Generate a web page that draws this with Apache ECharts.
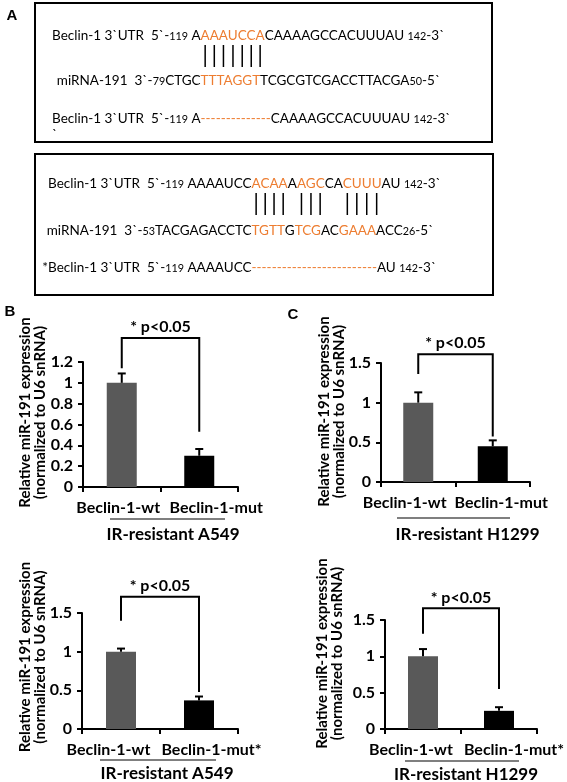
<!DOCTYPE html>
<html><head><meta charset="utf-8">
<script src="https://cdn.jsdelivr.net/npm/echarts@6/dist/echarts.min.js"></script>
<style>html,body{margin:0;padding:0;background:#fff}#c{width:567px;height:782px}</style>
</head><body><div id="c"></div>
<script>
// ---------- data ----------
const categoriesTop = ['Beclin-1-wt', 'Beclin-1-mut'];
const categoriesBottom = ['Beclin-1-wt', 'Beclin-1-mut*'];
const valuesB = [1.0, 0.30];
const errorsB = [0.09, 0.065];
const valuesC = [1.0, 0.45];
const errorsC = [0.13, 0.075];
const valuesD = [1.0, 0.37];
const errorsD = [0.04, 0.05];
const valuesE = [1.0, 0.25];
const errorsE = [0.10, 0.05];
const groupA549 = 'IR-resistant A549';
const groupH1299 = 'IR-resistant H1299';
const yMaxB = 1.2, yStepB = 0.2;
const yMax15 = 1.5, yStep05 = 0.5;
const yTitle = 'Relative miR-191 expression\n(normalized to U6 snRNA)';
const sigText = '* p<0.05';
// bracket levels (data units): [left foot, top, right foot]
const bracketB = [1.14, 1.43, 0.53];
const bracketC = [1.36, 1.61, 0.575];
const bracketD = [1.40, 1.71, 0.48];
const bracketE = [1.31, 1.66, 0.55];

// sequences for panel A: [text, kind]  n=normal, s=small number, o=orange
const box1Row1 = [['Beclin-1 3`UTR  5`-','n'],['119','s'],[' A','n'],['AAAUCCA','o'],['CAAAAGCCACUUUAU','n'],[' ','n'],['142','s'],['-3`','n']];
const box1Row2 = [['miRNA-191  3`-','n'],['79','s'],['CTGC','n'],['TTTAGGT','o'],['TCGCGTCGACCTTACGA','n'],['50','s'],['-5`','n']];
const box1Row3 = [['Beclin-1 3`UTR  5`-','n'],['119','s'],[' A','n'],['--------------','o'],['CAAAAGCCACUUUAU','n'],[' ','n'],['142','s'],['-3`','n']];
const box2Row1 = [['Beclin-1 3`UTR  5`-','n'],['119','s'],[' AAAAUCC','n'],['ACAA','o'],['A','n'],['AGC','o'],['CA','n'],['CUUU','o'],['AU','n'],[' ','n'],['142','s'],['-3`','n']];
const box2Row2 = [['miRNA-191  3`-','n'],['53','s'],['TACGAGACCTC','n'],['TGTT','o'],['G','n'],['TCG','o'],['AC','n'],['GAAA','o'],['ACC','n'],['26','s'],['-5`','n']];
const box2Row3 = [['*Beclin-1 3`UTR  5`-','n'],['119','s'],[' AAAAUCC','n'],['-------------------------','o'],['AU','n'],[' ','n'],['142','s'],['-3`','n']];

// ---------- layout ----------
const ORANGE = '#ED7D31';
const GRAY = '#595959';
const FONT = 'Lato';
const cv = document.createElement('canvas').getContext('2d');
function measure(t, size){ cv.font = size + 'px ' + FONT; return cv.measureText(t).width; }
function rowWidth(row, S){ return row.reduce((a, s) => a + measure(s[0], s[1]==='s' ? S*0.8 : S), 0); }
const S = 100 * 393 / rowWidth(box1Row1, 100);
function prefixWidth(row, segIdx){ let w=0; for(let i=0;i<segIdx;i++){ w+=measure(row[i][0], row[i][1]==='s'?S*0.8:S);} return w; }
function firstOrange(row){ return row.findIndex(s => s[1]==='o'); }
function rowTexts(row, x0, yc){
  const out = []; let x = x0;
  row.forEach(s => {
    const sz = s[1]==='s' ? S*0.8 : S;
    out.push({type:'text', x:x, y:yc + S*0.55, silent:true,
      style:{text:s[0], font: sz + 'px ' + FONT, fill: s[1]==='o' ? ORANGE : '#000', align:'left', verticalAlign:'bottom'}});
    x += measure(s[0], sz);
  });
  return out;
}
function pairLines(row, x0, y1, y2){
  const out = []; let x = x0;
  row.forEach(s => {
    const sz = s[1]==='s' ? S*0.8 : S;
    if (s[1]==='o') {
      for (let k=0;k<s[0].length;k++){
        const cx = x + measure(s[0].slice(0,k), sz) + measure(s[0][k], sz)/2;
        out.push({type:'line', silent:true, shape:{x1:cx,y1:y1,x2:cx,y2:y2}, style:{stroke:'#000', lineWidth:1.5}});
      }
    }
    x += measure(s[0], sz);
  });
  return out;
}
const g = [];
// boxes
g.push({type:'rect', shape:{x:35,y:3,width:457,height:139}, style:{fill:null, stroke:'#000', lineWidth:2}});
g.push({type:'rect', shape:{x:35,y:154,width:458,height:141}, style:{fill:null, stroke:'#000', lineWidth:2}});
// box 1
const b1x = 52;
const b1o = b1x + prefixWidth(box1Row1, firstOrange(box1Row1));
const b1r2x = b1o - prefixWidth(box1Row2, firstOrange(box1Row2));
g.push(...rowTexts(box1Row1, b1x, 35));
g.push(...pairLines(box1Row1, b1x, 45, 67));
g.push(...rowTexts(box1Row2, b1r2x, 80));
g.push(...rowTexts(box1Row3, b1x, 118));
g.push({type:'text', x:b1x, y:128, style:{text:'`', font:S+'px '+FONT, fill:'#000'}});
// box 2
const b2x = 48;
const b2o = b2x + prefixWidth(box2Row1, firstOrange(box2Row1));
const b2r2x = b2o - prefixWidth(box2Row2, firstOrange(box2Row2));
const b2r3x = b2x - measure('*', S);
g.push(...rowTexts(box2Row1, b2x, 183));
g.push(...pairLines(box2Row1, b2x, 193, 215));
g.push(...rowTexts(box2Row2, b2r2x, 230));
g.push(...rowTexts(box2Row3, b2r3x, 267));
// panel letters
const letterStyle = (t) => ({text:t, font:'bold 15px "Liberation Sans"', fill:'#000', align:'center', verticalAlign:'middle'});
g.push({type:'text', x:12, y:16, style:letterStyle('A')});
g.push({type:'text', x:10, y:312, style:letterStyle('B')});
g.push({type:'text', x:293, y:315, style:letterStyle('C')});
// group underlines
[[110,225,519],[397,510,518],[100,216,760],[405,519,761]].forEach(l => {
  g.push({type:'line', shape:{x1:l[0],y1:l[2],x2:l[1],y2:l[2]}, style:{stroke:'#000', lineWidth:1.2}});
});

// ---------- charts ----------
const panels = [
  {cats:categoriesTop, vals:valuesB, errs:errorsB, group:groupA549, max:yMaxB, step:yStepB, br:bracketB,
   grid:{left:83, top:362, width:155, height:125}, lp:[[0,7,0,0],[0,0,0,34]], yGap:35, yShift:24, xGap:39, xPad:25},
  {cats:categoriesTop, vals:valuesC, errs:errorsC, group:groupH1299, max:yMax15, step:yStep05, br:bracketC,
   grid:{left:381, top:363, width:149, height:119}, lp:[[0,27,0,0],[0,0,0,17]], yGap:34, yShift:22, xGap:44, xPad:24},
  {cats:categoriesBottom, vals:valuesD, errs:errorsD, group:groupA549, max:yMax15, step:yStep05, br:bracketD,
   grid:{left:82, top:613, width:156, height:116}, lp:[[0,25,0,0],[0,0,0,25]], yGap:34, yShift:28, xGap:36, xPad:14},
  {cats:categoriesBottom, vals:valuesE, errs:errorsE, group:groupH1299, max:yMax15, step:yStep05, br:bracketE,
   grid:{left:385, top:620, width:152, height:109}, lp:[[0,24,0,0],[0,0,0,30]], yGap:40, yShift:42, xGap:37, xPad:10}
];

function errRender(params, api){
  const x = api.value(0), v = api.value(1), e = api.value(2);
  const p0 = api.coord([x, v]), p1 = api.coord([x, v + e]);
  return {type:'group', children:[
    {type:'line', shape:{x1:p0[0],y1:p0[1],x2:p1[0],y2:p1[1]}, style:{stroke:'#000', lineWidth:2}},
    {type:'line', shape:{x1:p1[0]-4,y1:p1[1],x2:p1[0]+4,y2:p1[1]}, style:{stroke:'#000', lineWidth:2}}
  ]};
}
function bracketRender(params, api){
  const a = api.coord([api.value(0), api.value(2)]);
  const t0 = api.coord([api.value(0), api.value(3)]);
  const t1 = api.coord([api.value(1), api.value(3)]);
  const b = api.coord([api.value(1), api.value(4)]);
  return {type:'group', children:[
    {type:'polyline', shape:{points:[a,t0,t1,b]}, style:{stroke:'#000', lineWidth:2, fill:null}},
    {type:'text', x:(t0[0]+t1[0])/2, y:t0[1]-11, style:{text:sigText, font:'bold 16px ' + FONT, fill:'#000', align:'center', verticalAlign:'middle'}}
  ]};
}

const grids = [], xAxes = [], yAxes = [], series = [];
panels.forEach((p, i) => {
  grids.push(Object.assign({containLabel:false, outerBoundsMode:'none'}, p.grid));
  xAxes.push({type:'category', gridIndex:i,
    data: p.cats.map((c, k) => ({value:c, textStyle:{padding:p.lp[k]}})),
    axisLine:{lineStyle:{color:'#000', width:2}},
    axisTick:{show:true, length:5, lineStyle:{color:'#000', width:2}},
    axisLabel:{interval:0, margin:13, color:'#000', fontSize:16, fontWeight:'bold', fontFamily:FONT},
    name:p.group, nameLocation:'middle', nameGap:p.xGap, nameMoveOverlap:false,
    nameTextStyle:{color:'#000', fontSize:17, fontWeight:'bold', fontFamily:FONT, padding:[0,0,0,p.xPad]}
  });
  yAxes.push({type:'value', gridIndex:i, min:0, max:p.max, interval:p.step,
    axisLine:{show:true, lineStyle:{color:'#000', width:2}},
    axisTick:{show:true, length:5, lineStyle:{color:'#000', width:2}},
    splitLine:{show:false},
    axisLabel:{margin:10, color:'#000', fontSize:16, fontWeight:'bold', fontFamily:FONT},
    name:yTitle, nameLocation:'middle', nameRotate:90, nameGap:p.yGap, nameMoveOverlap:false,
    nameTextStyle:{color:'#000', fontSize:15, fontWeight:'bold', fontFamily:FONT, lineHeight:15, padding:[0,0,0,p.yShift]}
  });
  series.push({type:'bar', xAxisIndex:i, yAxisIndex:i, barWidth:30,
    data: p.vals.map((v, k) => ({value:v, itemStyle:{color: k===0 ? GRAY : '#000'}})),
    silent:true, animation:false});
  series.push({type:'custom', xAxisIndex:i, yAxisIndex:i, renderItem:errRender,
    data: p.vals.map((v, k) => [k, v, p.errs[k]]), encode:{x:0, y:1}, silent:true, animation:false, z:3});
  series.push({type:'custom', xAxisIndex:i, yAxisIndex:i, renderItem:bracketRender, clip:false,
    data: [[0, 1, p.br[0], p.br[1], p.br[2]]], encode:{x:0, y:2}, silent:true, animation:false, z:3});
});

const chart = echarts.init(document.getElementById('c'), null, {renderer:'canvas', width:567, height:782});
chart.setOption({
  backgroundColor:'#fff', animation:false,
  grid:grids, xAxis:xAxes, yAxis:yAxes, series:series,
  graphic:g
});
</script>
</body></html>
